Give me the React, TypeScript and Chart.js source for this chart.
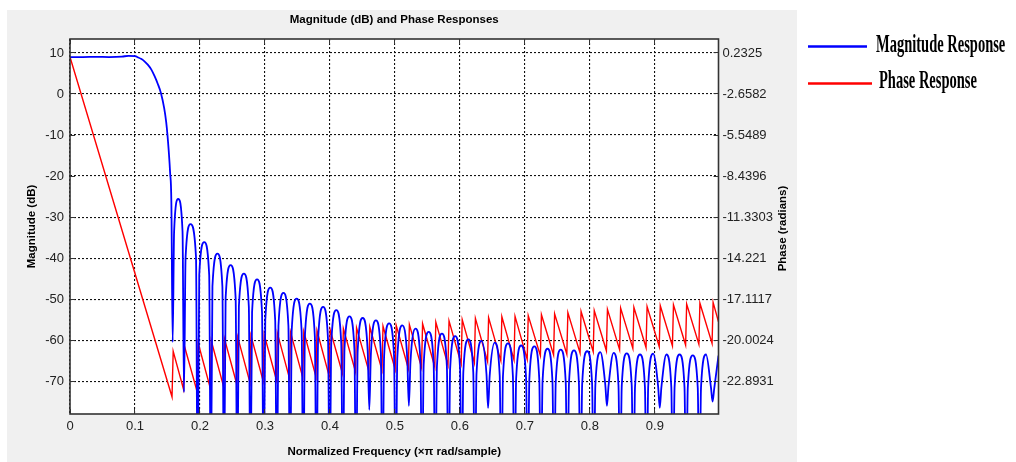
import React, { useEffect, useRef } from 'react';
import { Chart, registerables } from 'chart.js';

Chart.register(...registerables);

// ---- axis ticks -------------------------------------------------------------
const freqTicks = [0, 0.1, 0.2, 0.3, 0.4, 0.5, 0.6, 0.7, 0.8, 0.9];
const freqTickLabels = ['0', '0.1', '0.2', '0.3', '0.4', '0.5', '0.6', '0.7', '0.8', '0.9'];

const magTicks = [10, 0, -10, -20, -30, -40, -50, -60, -70];
const magTickLabels = ['10', '0', '-10', '-20', '-30', '-40', '-50', '-60', '-70'];

const phaseTicks = [0.2325, -2.6582, -5.5489, -8.4396, -11.3303, -14.221, -17.1117, -20.0024, -22.8931];
const phaseTickLabels = ['0.2325', '-2.6582', '-5.5489', '-8.4396', '-11.3303', '-14.221', '-17.1117', '-20.0024', '-22.8931'];

// axis limits (the phase axis is tied to the dB axis so both tick sets share grid lines)
const freqMax = 0.998;
const magMin = -78;
const magMax = 13.4;
const phaseMin = -25.2057;
const phaseMax = 1.2153;

// ---- text -------------------------------------------------------------------
const chartTitle = 'Magnitude (dB) and Phase Responses';
const freqAxisTitle = 'Normalized Frequency (\u00d7\u03c0 rad/sample)';
const magAxisTitle = 'Magnitude (dB)';
const phaseAxisTitle = 'Phase (radians)';
const seriesNames = ['Magnitude Response', 'Phase Response'];

// ---- magnitude response, [normalized frequency, dB] --------------------------
const passbandMagnitude: [number, number][] = [
  [0, 9.0], [0.02, 9.0], [0.04, 9.05], [0.06, 9.0], [0.08, 9.1], [0.09, 9.3], [0.1, 9.2],
  [0.105, 8.9], [0.11, 8.5], [0.115, 7.9], [0.12, 7.1], [0.125, 6.0], [0.13, 4.4],
  [0.135, 2.5], [0.14, 0.2], [0.145, -3.5], [0.148, -6.8], [0.15, -10], [0.152, -14],
  [0.154, -19], [0.156, -26.5],
];

const stopbandMagnitude: [number, number][] = [
  [0.158, -60.5],
  [0.1602, -33.6], [0.1665, -25.6], [0.1732, -33.6], [0.1754, -72.7],
  [0.1779, -39.7], [0.1855, -31.7], [0.1939, -39.7], [0.1964, -100],
  [0.1989, -44.1], [0.2066, -36.1], [0.2142, -44.1], [0.2167, -100],
  [0.2192, -46.9], [0.2269, -38.9], [0.2345, -46.9], [0.2370, -100],
  [0.2395, -49.7], [0.2472, -41.7], [0.2549, -49.7], [0.2574, -100],
  [0.2599, -51.8], [0.2676, -43.8], [0.2752, -51.8], [0.2777, -100],
  [0.2802, -53.2], [0.2879, -45.2], [0.2955, -53.2], [0.2980, -100],
  [0.3005, -55.2], [0.3082, -47.2], [0.3158, -55.2], [0.3183, -100],
  [0.3208, -56.5], [0.3285, -48.5], [0.3361, -56.5], [0.3386, -100],
  [0.3411, -57.9], [0.3488, -49.9], [0.3565, -57.9], [0.3590, -100],
  [0.3615, -59.1], [0.3692, -51.1], [0.3768, -59.1], [0.3793, -100],
  [0.3818, -59.9], [0.3895, -51.9], [0.3971, -59.9], [0.3996, -100],
  [0.4021, -60.7], [0.4098, -52.7], [0.4174, -60.7], [0.4199, -100],
  [0.4224, -62.2], [0.4301, -54.2], [0.4377, -62.2], [0.4402, -100],
  [0.4427, -62.6], [0.4504, -54.6], [0.4581, -62.6], [0.4606, -77],
  [0.4631, -63.2], [0.4708, -55.2], [0.4784, -63.2], [0.4809, -100],
  [0.4834, -63.9], [0.4911, -55.9], [0.4987, -63.9], [0.5012, -100],
  [0.5037, -64.4], [0.5114, -56.4], [0.5190, -64.4], [0.5215, -76],
  [0.5240, -65.2], [0.5317, -57.2], [0.5393, -65.2], [0.5418, -100],
  [0.5443, -66.0], [0.5520, -58.0], [0.5597, -66.0], [0.5622, -100],
  [0.5647, -66.4], [0.5724, -58.4], [0.5800, -66.4], [0.5825, -100],
  [0.5850, -67.0], [0.5927, -59.0], [0.6003, -67.0], [0.6028, -100],
  [0.6053, -67.8], [0.6130, -59.8], [0.6206, -67.8], [0.6231, -100],
  [0.6256, -68.2], [0.6333, -60.2], [0.6409, -68.2], [0.6434, -76.5],
  [0.6459, -68.6], [0.6536, -60.6], [0.6613, -68.6], [0.6638, -100],
  [0.6663, -68.8], [0.6740, -60.8], [0.6816, -68.8], [0.6841, -100],
  [0.6866, -69.3], [0.6943, -61.3], [0.7019, -69.3], [0.7044, -100],
  [0.7069, -69.5], [0.7146, -61.5], [0.7222, -69.5], [0.7247, -100],
  [0.7272, -70.1], [0.7349, -62.1], [0.7425, -70.1], [0.7450, -100],
  [0.7475, -70.3], [0.7552, -62.3], [0.7629, -70.3], [0.7654, -100],
  [0.7679, -70.5], [0.7756, -62.5], [0.7832, -70.5], [0.7857, -100],
  [0.7882, -70.7], [0.7959, -62.7], [0.8035, -70.7], [0.8060, -100],
  [0.8085, -70.9], [0.8162, -62.9], [0.8238, -70.9], [0.8263, -76],
  [0.8288, -71.1], [0.8365, -63.1], [0.8441, -71.1], [0.8466, -100],
  [0.8491, -71.2], [0.8568, -63.2], [0.8645, -71.2], [0.8670, -100],
  [0.8695, -71.5], [0.8772, -63.5], [0.8848, -71.5], [0.8873, -100],
  [0.8898, -71.3], [0.8975, -63.3], [0.9051, -71.3], [0.9076, -76.5],
  [0.9101, -71.5], [0.9178, -63.5], [0.9254, -71.5], [0.9279, -100],
  [0.9304, -71.5], [0.9381, -63.5], [0.9457, -71.5], [0.9482, -100],
  [0.9507, -71.7], [0.9584, -63.7], [0.9661, -71.7], [0.9686, -100],
  [0.9711, -71.5], [0.9788, -63.5], [0.9864, -71.5], [0.9889, -75],
  [0.9914, -71.8], [0.998, -63.8],
];

// ---- phase response, [normalized frequency, radians] -------------------------
const phaseResponse: [number, number][] = [
  [0, -0.05],
  [0.1570, -23.994], [0.1588, -20.783],
  [0.1746, -23.442], [0.1762, -20.436],
  [0.1956, -23.616], [0.1972, -20.205],
  [0.2159, -23.385], [0.2175, -20.060],
  [0.2362, -23.240], [0.2378, -19.916],
  [0.2566, -23.096], [0.2582, -19.800],
  [0.2769, -22.980], [0.2785, -19.684],
  [0.2972, -22.864], [0.2988, -19.598],
  [0.3175, -22.778], [0.3191, -19.511],
  [0.3378, -22.691], [0.3394, -19.453],
  [0.3582, -22.633], [0.3598, -19.395],
  [0.3785, -22.575], [0.3801, -19.338],
  [0.3988, -22.517], [0.4004, -19.280],
  [0.4191, -22.315], [0.4207, -19.193],
  [0.4394, -22.228], [0.4410, -19.135],
  [0.4598, -22.170], [0.4614, -19.077],
  [0.4801, -22.113], [0.4817, -19.020],
  [0.5004, -22.055], [0.5020, -18.962],
  [0.5207, -21.997], [0.5223, -18.904],
  [0.5410, -21.939], [0.5426, -18.846],
  [0.5614, -21.881], [0.5630, -18.731],
  [0.5817, -21.766], [0.5833, -18.644],
  [0.6020, -21.679], [0.6036, -18.557],
  [0.6223, -21.592], [0.6239, -18.470],
  [0.6426, -21.506], [0.6442, -18.413],
  [0.6630, -21.448], [0.6646, -18.355],
  [0.6833, -21.390], [0.6849, -18.326],
  [0.7036, -21.361], [0.7052, -18.268],
  [0.7239, -21.101], [0.7255, -18.210],
  [0.7442, -21.043], [0.7458, -18.152],
  [0.7646, -20.985], [0.7662, -18.066],
  [0.7849, -20.899], [0.7865, -17.979],
  [0.8052, -20.812], [0.8068, -17.921],
  [0.8255, -20.754], [0.8271, -17.834],
  [0.8458, -20.667], [0.8474, -17.748],
  [0.8662, -20.581], [0.8678, -17.690],
  [0.8865, -20.523], [0.8881, -17.632],
  [0.9068, -20.465], [0.9084, -17.574],
  [0.9271, -20.407], [0.9287, -17.516],
  [0.9474, -20.349], [0.9490, -17.459],
  [0.9678, -20.292], [0.9694, -17.401],
  [0.9881, -20.234], [0.9897, -17.343],
  [0.998, -18.702],
];

// ---- styling ----------------------------------------------------------------
const SANS = '"Liberation Sans", Arial, Helvetica, sans-serif';
const SERIF = '"Liberation Serif", "Times New Roman", serif';
const FIGURE_BG = '#f0f0f0';
const TICK_COLOR = '#222222';
const GRID_COLOR = '#111111';
const FRAME_COLOR = '#333333';
const MAG_COLOR = '#0000ff';
const PHASE_COLOR = '#ff0000';

const alignPx = (p: number, w: number) => Math.round(p - w / 2) + w / 2;

// grey figure panel with a white axes box
const panelPlugin = {
  id: 'figurePanel',
  beforeDraw(chart: any) {
    const { ctx, chartArea: a } = chart;
    ctx.save();
    ctx.fillStyle = '#ffffff';
    ctx.fillRect(0, 0, chart.width, chart.height);
    ctx.fillStyle = FIGURE_BG;
    ctx.fillRect(7, 10, a.right + 78.5 - 7, chart.height - 10);
    ctx.fillStyle = '#ffffff';
    ctx.fillRect(a.left, a.top, a.right - a.left, a.bottom - a.top);
    ctx.restore();
  },
};

// axes box with inward tick marks on all four sides
const framePlugin = {
  id: 'axesFrame',
  afterDatasetsDraw(chart: any) {
    const { ctx, chartArea: a, scales } = chart;
    const len = 5;
    ctx.save();
    ctx.strokeStyle = FRAME_COLOR;
    ctx.lineWidth = 1;
    ctx.beginPath();
    magTicks.forEach((v) => {
      const y = alignPx(scales.y.getPixelForValue(v), 1);
      ctx.moveTo(a.left, y);
      ctx.lineTo(a.left + len, y);
      ctx.moveTo(a.right, y);
      ctx.lineTo(a.right - len, y);
    });
    freqTicks.forEach((v) => {
      const x = alignPx(scales.x.getPixelForValue(v), 1);
      ctx.moveTo(x, a.bottom);
      ctx.lineTo(x, a.bottom - len);
      ctx.moveTo(x, a.top);
      ctx.lineTo(x, a.top + len);
    });
    ctx.stroke();
    ctx.lineWidth = 1.6;
    ctx.strokeRect(a.left, a.top, a.right - a.left, a.bottom - a.top);
    ctx.restore();
  },
};

// right-hand axis title (reads bottom-to-top) and the legend beside the figure
const sidePlugin = {
  id: 'sideText',
  afterDraw(chart: any) {
    const { ctx, chartArea: a } = chart;
    ctx.save();
    ctx.translate(a.right + 64.5, (a.top + a.bottom) / 2 + 2);
    ctx.rotate(-Math.PI / 2);
    ctx.font = `bold 11.5px ${SANS}`;
    ctx.fillStyle = '#000';
    ctx.textAlign = 'center';
    ctx.textBaseline = 'middle';
    ctx.fillText(phaseAxisTitle, 0, 0);
    ctx.restore();

    const rows = [
      { lineY: 46.5, lineEnd: 867, textX: 876, baseline: 52 },
      { lineY: 83.5, lineEnd: 872, textX: 879, baseline: 88 },
    ];
    chart.data.datasets.forEach((ds: any, i: number) => {
      const r = rows[i];
      if (!r) return;
      ctx.save();
      ctx.strokeStyle = ds.borderColor;
      ctx.lineWidth = 2.6;
      ctx.beginPath();
      ctx.moveTo(808, r.lineY);
      ctx.lineTo(r.lineEnd, r.lineY);
      ctx.stroke();
      ctx.translate(r.textX, r.baseline);
      ctx.scale(0.58, 1);
      ctx.font = `bold 25px ${SERIF}`;
      ctx.fillStyle = '#000';
      ctx.textAlign = 'left';
      ctx.textBaseline = 'alphabetic';
      ctx.fillText(ds.label, 0, 0);
      ctx.restore();
    });
  },
};

export default function App() {
  const canvasRef = useRef<HTMLCanvasElement | null>(null);

  useEffect(() => {
    const canvas = canvasRef.current;
    if (!canvas) return;

    const tickFont = { family: SANS, size: 13 };
    const titleFont = { family: SANS, size: 11.5, weight: 'bold' as const };

    const chart = new Chart(canvas, {
      type: 'line',
      data: {
        datasets: [
          {
            label: seriesNames[0],
            data: [...passbandMagnitude, ...stopbandMagnitude] as any,
            borderColor: MAG_COLOR,
            borderWidth: 1.8,
            pointRadius: 0,
            cubicInterpolationMode: 'monotone',
            yAxisID: 'y',
            clip: 0 as any,
          },
          {
            label: seriesNames[1],
            data: phaseResponse as any,
            borderColor: PHASE_COLOR,
            borderWidth: 1.4,
            pointRadius: 0,
            tension: 0,
            yAxisID: 'y1',
            clip: 0 as any,
          },
        ],
      },
      options: {
        responsive: false,
        animation: false,
        events: [],
        layout: { padding: { top: 10, right: 219, bottom: 0, left: 0 } },
        plugins: {
          legend: { display: false },
          tooltip: { enabled: false },
          title: {
            display: true,
            text: chartTitle,
            fullSize: false,
            color: '#000',
            font: titleFont,
            padding: { top: 3, bottom: 12.2 },
          },
        },
        scales: {
          x: {
            type: 'linear',
            min: 0,
            max: freqMax,
            afterBuildTicks: (s: any) => {
              s.ticks = freqTicks.map((value) => ({ value }));
            },
            afterFit: (s: any) => {
              s.height = 48;
            },
            ticks: {
              autoSkip: false,
              maxRotation: 0,
              padding: 5,
              color: TICK_COLOR,
              font: tickFont,
              callback: (_v: any, i: number) => freqTickLabels[i],
            },
            grid: { color: GRID_COLOR, lineWidth: 1.1, drawTicks: false },
            border: { display: false, dash: [2, 2] },
            title: {
              display: true,
              text: freqAxisTitle,
              color: '#000',
              font: titleFont,
              padding: { top: 0, bottom: 3 },
            },
          },
          y: {
            type: 'linear',
            position: 'left',
            min: magMin,
            max: magMax,
            afterBuildTicks: (s: any) => {
              s.ticks = magTicks.map((value) => ({ value }));
            },
            afterFit: (s: any) => {
              s.width = 70;
            },
            ticks: {
              autoSkip: false,
              padding: 6,
              color: TICK_COLOR,
              font: tickFont,
              callback: (_v: any, i: number) => magTickLabels[i],
            },
            grid: { color: GRID_COLOR, lineWidth: 1.1, drawTicks: false },
            border: { display: false, dash: [2, 2] },
            title: {
              display: true,
              text: magAxisTitle,
              color: '#000',
              font: titleFont,
              padding: { top: 25, bottom: 0 },
            },
          },
          y1: {
            type: 'linear',
            position: 'right',
            min: phaseMin,
            max: phaseMax,
            afterBuildTicks: (s: any) => {
              s.ticks = phaseTicks.map((value) => ({ value }));
            },
            afterFit: (s: any) => {
              s.width = 78.5;
            },
            ticks: {
              autoSkip: false,
              padding: 4,
              color: TICK_COLOR,
              font: tickFont,
              callback: (_v: any, i: number) => phaseTickLabels[i],
            },
            grid: { drawOnChartArea: false, drawTicks: false },
            border: { display: false },
          },
        },
      },
      plugins: [panelPlugin, framePlugin, sidePlugin],
    });

    return () => chart.destroy();
  }, []);

  return (
    <div style={{ position: 'absolute', left: 0, top: 0, width: 1016, height: 462 }}>
      <canvas ref={canvasRef} width={1016} height={462} style={{ display: 'block' }} />
    </div>
  );
}
